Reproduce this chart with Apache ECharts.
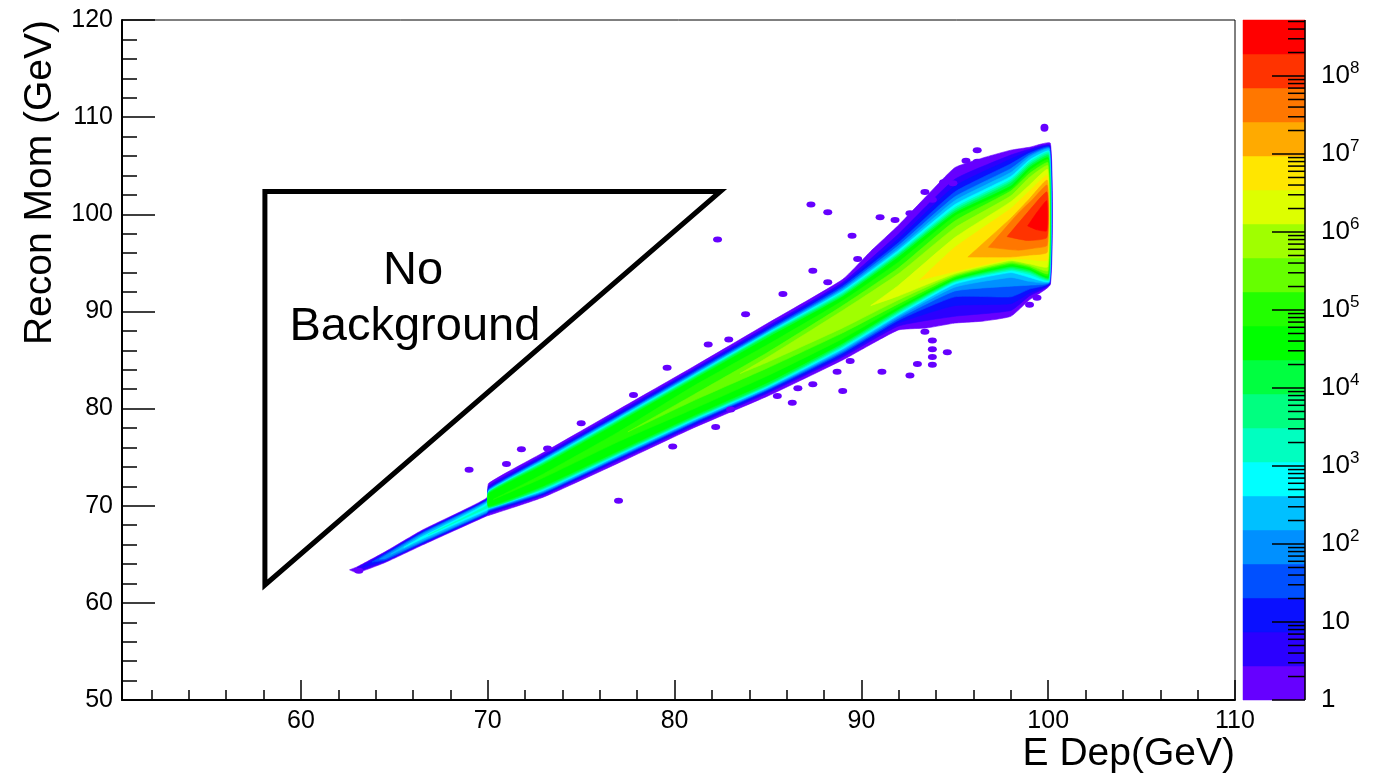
<!DOCTYPE html>
<html><head><meta charset="utf-8">
<script src="https://cdn.jsdelivr.net/npm/echarts@6/dist/echarts.min.js"></script>
<style>html,body{margin:0;padding:0;background:#fff}#c{width:1386px;height:778px}</style>
</head><body><div id="c"></div>
<script>
const FONT = '"Liberation Sans", Arial, Helvetica, sans-serif';

// ---- axes ----
const X_TICKS = [60, 70, 80, 90, 100, 110];
const X_MINOR = [52,54,56,58,62,64,66,68,72,74,76,78,82,84,86,88,92,94,96,98,102,104,106,108];
const Y_TICKS = [50, 60, 70, 80, 90, 100, 110, 120];
const Y_MINOR = [52,54,56,58,62,64,66,68,72,74,76,78,82,84,86,88,92,94,96,98,102,104,106,108,112,114,116,118];
const CB_DECADES = [0, 1, 2, 3, 4, 5, 6, 7, 8];

// ---- colour levels (z, log scale) ----
const LEVELS = [1, 2.729, 7.444, 20.31, 55.42, 151.2, 412.6, 1126, 3071, 8378, 22860, 62370,
  170200, 464200, 1.267e6, 3.456e6, 9.428e6, 2.572e7, 7.018e7, 1.915e8, 5.224e8];
const COLORS = ['#6600ff','#2b00ff','#0a10ff','#0050ff','#0090ff','#00c0ff','#00ffff','#00ffc0',
  '#00ff80','#00ff40','#00ff00','#22ff00','#66ff00','#a0ff00','#ddff00','#ffe600','#ffaa00',
  '#ff7700','#ff3300','#ff0000'];

// ---- contour regions: [E Dep, lower Recon Mom, upper Recon Mom] per level ----
const C1 = [[62.6,63.4,63.4],[63,63.1,63.7],[64.5,64.15,65.25],[66.5,65.95,67.5],[69.95,68.95,70.8],[70.05,69.0,72.3],[73,70.9,75.5],[77,74.4,79.9],[81,78.0,84.3],[85,81.3,88.8],[89,85.0,93.3],[90.5,86.6,96.2],[92,88.1,98.9],[93.5,88.3,101.9],[95,88.8,104.8],[96.5,89.0,105.8],[98,89.5,106.6],[99,91.2,106.9],[100.12,92.8,107.3]];
const C2 = [[62.9,63.4,63.4],[63,63.2,63.6],[64.5,64.25,65.15],[66.5,66.05,67.4],[69.95,69.05,70.7],[70.05,69.2,72.05],[73,71.1,75.25],[77,74.65,79.65],[81,78.2,84.05],[85,81.6,88.5],[89,85.3,93.0],[92,88.5,98.0],[95,89.5,103.6],[98,90.1,106.1],[99,91.6,106.7],[100.10,92.85,107.1]];
const C3 = [[63.3,63.7,63.7],[64.5,64.32,65.08],[66.5,66.12,67.32],[69.95,69.13,70.62],[70.05,69.35,71.85],[73,71.2,75.05],[77,74.8,79.45],[81,78.35,83.9],[85,81.75,88.3],[89,85.5,92.8],[92,88.8,97.5],[95,90.6,102.9],[98,90.8,105.7],[99,91.9,106.5],[100.09,92.9,107.0]];
const C4 = [[63.8,64.2,64.2],[64.5,64.4,65.0],[66.5,66.2,67.25],[69.95,69.2,70.55],[70.05,69.45,71.75],[73,71.3,74.95],[77,74.9,79.3],[81,78.5,83.75],[85,81.9,88.15],[89,85.7,92.6],[92,89.1,97.1],[95,91.5,102.3],[98,91.5,105.2],[99,92.3,106.3],[100.08,92.95,106.9]];
const C5 = [[64.2,64.5,64.5],[64.5,64.55,64.85],[66.5,66.3,67.15],[69.95,69.3,70.47],[70.05,69.55,71.65],[73,71.4,74.85],[77,75.0,79.2],[81,78.6,83.6],[85,82.0,88.0],[89,85.85,92.4],[92,89.3,96.8],[95,92.1,101.8],[98,92.6,104.7],[99,92.7,106.1],[100.07,93.0,106.8]];
const C6 = [[64.8,65.0,65.0],[66.5,66.42,67.0],[69.95,69.4,70.38],[70.05,69.62,71.58],[73,71.5,74.75],[77,75.1,79.1],[81,78.7,83.5],[85,82.1,87.9],[89,86.0,92.25],[92,89.5,96.5],[95,92.5,101.4],[98,93.5,104.3],[99,93.1,105.9],[100.06,93.05,106.7]];
const C7 = [[65.5,65.7,65.7],[66.5,66.6,66.82],[69.95,69.54,70.25],[70.05,69.7,71.5],[73,71.6,74.65],[77,75.2,79.0],[81,78.8,83.4],[85,82.2,87.8],[89,86.15,92.1],[92,89.65,96.3],[95,92.8,101.0],[98,94.0,103.9],[99,93.5,105.6],[100.05,93.1,106.5]];
const C8 = [[66.8,67.0,67.0],[69.95,69.75,70.05],[70.05,69.75,71.45],[73,71.7,74.55],[77,75.3,78.9],[81,78.9,83.3],[85,82.3,87.7],[89,86.3,91.95],[92,89.8,96.1],[95,93.0,100.7],[98,94.2,103.6],[99,93.8,105.4],[100.04,93.2,106.4]];
const C9 = [[70.05,69.8,71.4],[73,71.8,74.45],[77,75.4,78.8],[81,79.0,83.2],[85,82.4,87.6],[89,86.45,91.8],[92,89.95,95.95],[95,93.1,100.5],[98,94.35,103.4],[99,94.0,105.2],[100.03,93.3,106.2]];
const C10 = [[70.05,69.85,71.35],[73,71.9,74.35],[77,75.5,78.7],[81,79.1,83.1],[85,82.5,87.5],[89,86.6,91.65],[92,90.1,95.8],[95,93.2,100.3],[98,94.5,103.2],[99,94.15,105.0],[100.02,93.4,106.0]];
const C11 = [[70.05,69.95,71.25],[73,72.05,74.2],[77,75.65,78.55],[81,79.25,82.95],[85,82.7,87.3],[89,86.75,91.5],[92,90.25,95.6],[95,93.3,100.1],[98,94.65,102.9],[99,94.3,104.8],[100.01,93.5,105.8]];
const C12 = [[70.3,70.65,70.65],[73,72.9,73.3],[77,76.6,77.6],[81,79.95,82.3],[85,83.4,86.6],[89,87.2,91.1],[92,90.5,95.1],[95,93.45,99.8],[98,94.8,102.6],[99,94.45,104.5],[100.0,93.7,105.6]];
const C13 = [[77.5,77.6,77.6],[81,80.8,81.4],[85,84.2,85.8],[89,87.8,90.6],[92,90.8,94.5],[95,93.6,99.3],[98,94.95,102.4],[99,94.6,104.2],[99.99,93.9,105.3]];
const C14 = [[83.5,83.6,83.6],[85,84.8,85.3],[89,88.3,90.1],[92,91.2,93.9],[95,93.75,98.6],[98,95.1,101.9],[99,94.75,103.8],[99.98,94.2,105.0]];
const C15 = [[90.5,90.6,90.6],[92,91.6,92.7],[95,93.9,97.6],[98,95.25,101.3],[99,94.9,103.0],[99.97,94.6,104.6]];
const C16 = [[93.1,93.2,93.2],[95,94.1,96.6],[98,95.4,100.6],[99,95.35,102.4],[99.96,95.3,104.0]];
const C17 = [[95.7,95.6,95.6],[98,95.6,99.6],[99,95.8,101.6],[99.95,96.1,103.5]];
const C18 = [[96.8,96.6,96.6],[98.4,96.3,100.1],[99.2,96.5,101.6],[99.94,96.8,103.0]];
const C19 = [[97.8,97.7,97.7],[98.9,97.3,100.2],[99.93,97.6,102.3]];
const C20 = [[98.9,98.8,98.8],[99.4,98.4,100.2],[99.92,98.3,101.4]];
const CONTOURS = [C1,C2,C3,C4,C5,C6,C7,C8,C9,C10,C11,C12,C13,C14,C15,C16,C17,C18,C19,C20];

// ---- isolated low-count cells ----
const ISOLATED = [[96.2,106.6],[95.6,105.5],[96.2,105.4],[95.4,104.6],[94.4,103.3],[94.9,103.2],
  [93.4,102.3],[93.8,101.5],[92.6,100.1],[91.8,99.4],[91.0,99.7],[89.8,95.4],[89.5,97.8],
  [88.2,100.2],[87.3,101.0],[82.3,97.4],[87.4,94.2],[88.2,93.0],[85.8,91.8],[83.8,89.7],
  [81.8,86.6],[82.9,87.1],[79.6,84.2],[77.8,81.4],[75.0,78.5],[73.2,75.9],[71.8,75.8],[69.0,73.7],
  [71.0,74.3],[99.4,91.4],[99.0,90.7],[93.4,87.9],[93.8,87.0],[94.6,85.8],[93.8,86.1],[93.8,85.3],
  [93.0,84.6],[93.8,84.5],[92.6,83.4],[91.1,83.8],[89.4,84.9],[88.7,83.8],[89.0,81.8],[87.4,82.5],
  [86.6,82.1],[85.5,81.3],[86.3,80.6],[83.0,79.9],[82.2,78.1],[79.9,76.1],[77.0,70.5],[63.1,63.3]];
const TOP_DOT = [[99.8,108.9]];

// ---- annotation ----
const TRIANGLE = [[58.07,102.35],[82.45,102.35],[58.07,61.84],[58.07,102.35],[82.45,102.35]];
const NOTE = [[66.0,94.2,'No'],[66.1,88.4,'Background']];

const CB_MAX = Math.log10(LEVELS[LEVELS.length-1]);
const cbTicks = [];
for (let d = 0; d <= 8; d++) {
  cbTicks.push([1, d, 33]);
  for (let m = 2; m <= 9; m++) { const v = Math.log10(m) + d; if (v <= CB_MAX) cbTicks.push([1, v, 17]); }
}

const chart = echarts.init(document.getElementById('c'), null, {renderer: 'canvas'});
const black = '#000';
const tickLabel = {color: black, fontSize: 25, fontFamily: FONT};

chart.setOption({
  animation: false,
  backgroundColor: '#fff',
  grid: [
    {left: 122, top: 20, width: 1113, height: 680, show: true, borderColor: black, borderWidth: 1, backgroundColor: 'transparent'},
    {left: 1243, top: 20, width: 62, height: 680, show: false}
  ],
  xAxis: [
    {gridIndex: 0, type: 'value', min: 50.42, max: 110, position: 'bottom',
     axisLine: {show: true, lineStyle: {color: black, width: 2}},
     axisTick: {show: true, inside: true, length: 20, customValues: X_TICKS, lineStyle: {color: black, width: 1.5}},
     axisLabel: Object.assign({show: true, margin: 9, customValues: X_TICKS}, tickLabel),
     splitLine: {show: false}},
    {gridIndex: 0, type: 'value', min: 50.42, max: 110, position: 'bottom',
     axisLine: {show: false},
     axisTick: {show: true, inside: true, length: 10, customValues: X_MINOR, lineStyle: {color: black, width: 1.5}},
     axisLabel: {show: false}, splitLine: {show: false}},
    {gridIndex: 1, type: 'value', min: 0, max: 1, show: false}
  ],
  yAxis: [
    {gridIndex: 0, type: 'value', min: 50, max: 120, position: 'left',
     axisLine: {show: true, lineStyle: {color: black, width: 2}},
     axisTick: {show: true, inside: true, length: 33, customValues: Y_TICKS, lineStyle: {color: black, width: 1.5}},
     axisLabel: Object.assign({show: true, margin: 9, customValues: Y_TICKS}, tickLabel),
     splitLine: {show: false}},
    {gridIndex: 0, type: 'value', min: 50, max: 120, position: 'left',
     axisLine: {show: false},
     axisTick: {show: true, inside: true, length: 15, customValues: Y_MINOR, lineStyle: {color: black, width: 1.5}},
     axisLabel: {show: false}, splitLine: {show: false}},
    {gridIndex: 1, type: 'value', min: 0, max: CB_MAX, position: 'right',
     axisLine: {show: false},
     axisTick: {show: false},
     axisLabel: {show: true, margin: 16, customValues: CB_DECADES, color: black, fontFamily: FONT,
       formatter: function (v) {
         v = Math.round(v);
         if (v === 0) return '{b|1}';
         if (v === 1) return '{b|10}';
         return '{b|10}{s|' + v + '}';
       },
       rich: {
         b: {fontSize: 26, lineHeight: 32, fontFamily: FONT, color: black},
         s: {fontSize: 17, lineHeight: 17, verticalAlign: 'top', fontFamily: FONT, color: black}
       }},
     splitLine: {show: false}}
  ],
  series: [
    {
      type: 'custom', name: 'contours', xAxisIndex: 0, yAxisIndex: 0, clip: true,
      data: CONTOURS.map((p, i) => [p[0][0], p[0][1], i]),
      encode: {x: 0, y: 1},
      renderItem: function (params, api) {
        const lvl = api.value(2);
        const poly = CONTOURS[lvl];
        const pts = [];
        for (let i = 0; i < poly.length; i++) pts.push(api.coord([poly[i][0], poly[i][2]]));
        for (let i = poly.length - 1; i >= 0; i--) pts.push(api.coord([poly[i][0], poly[i][1]]));
        return {type: 'polygon', shape: {points: pts, smooth: 0.15},
          style: {fill: COLORS[lvl], stroke: COLORS[lvl], lineWidth: 0.6}};
      },
      z: 2
    },
    {
      type: 'scatter', name: 'isolated', xAxisIndex: 0, yAxisIndex: 0,
      data: ISOLATED, symbol: 'circle', symbolSize: [9, 6],
      itemStyle: {color: COLORS[0], opacity: 1}, z: 3
    },
    {
      type: 'scatter', name: 'topdot', xAxisIndex: 0, yAxisIndex: 0,
      data: TOP_DOT, symbol: 'circle', symbolSize: 8,
      itemStyle: {color: COLORS[0], opacity: 1}, z: 3
    },
    {
      type: 'line', name: 'triangle', xAxisIndex: 0, yAxisIndex: 0,
      data: TRIANGLE, showSymbol: false, symbol: 'none',
      lineStyle: {color: black, width: 5, join: 'miter', cap: 'butt'}, z: 4
    },
    {
      type: 'scatter', name: 'note', xAxisIndex: 0, yAxisIndex: 0,
      data: NOTE, symbolSize: 0, itemStyle: {opacity: 1},
      label: {show: true, position: 'inside', formatter: p => p.value[2],
        fontSize: 47, fontFamily: FONT, color: black, opacity: 1}, z: 5
    },
    {
      type: 'custom', name: 'colorbar', xAxisIndex: 2, yAxisIndex: 2,
      data: COLORS.map((c, k) => [0, Math.log10(LEVELS[k]), k]),
      encode: {x: 0, y: 1},
      renderItem: function (params, api) {
        const k = api.value(2);
        const p0 = api.coord([0, Math.log10(LEVELS[k])]);
        const p1 = api.coord([1, Math.log10(LEVELS[k + 1])]);
        return {type: 'rect', shape: {x: p0[0], y: p1[1], width: p1[0] - p0[0], height: p0[1] - p1[1]},
          style: {fill: COLORS[k], stroke: COLORS[k], lineWidth: 0.5}};
      }, z: 2
    },
    {
      type: 'custom', name: 'colorbarTicks', xAxisIndex: 2, yAxisIndex: 2,
      data: cbTicks, encode: {x: 0, y: 1}, clip: false,
      renderItem: function (params, api) {
        const p = api.coord([1, api.value(1)]);
        const len = api.value(2);
        const children = [{type: 'line', shape: {x1: p[0] - len, y1: p[1], x2: p[0], y2: p[1]},
          style: {stroke: black, lineWidth: 1.5}}];
        if (params.dataIndex === 0) {
          const a = api.coord([1, 0]), b = api.coord([1, CB_MAX]);
          children.push({type: 'line', shape: {x1: a[0], y1: a[1], x2: b[0], y2: b[1]},
            style: {stroke: black, lineWidth: 1.5}});
        }
        return {type: 'group', children: children};
      }, z: 6
    }
  ],
  graphic: [
    {type: 'text', x: 40, y: 20, rotation: Math.PI / 2,
     style: {text: 'Recon Mom (GeV)', fontSize: 39, fontFamily: FONT, fill: black, align: 'right', verticalAlign: 'middle'}},
    {type: 'text', x: 1235, y: 754,
     style: {text: 'E Dep(GeV)', fontSize: 39, fontFamily: FONT, fill: black, align: 'right', verticalAlign: 'middle'}}
  ]
});
</script></body></html>
